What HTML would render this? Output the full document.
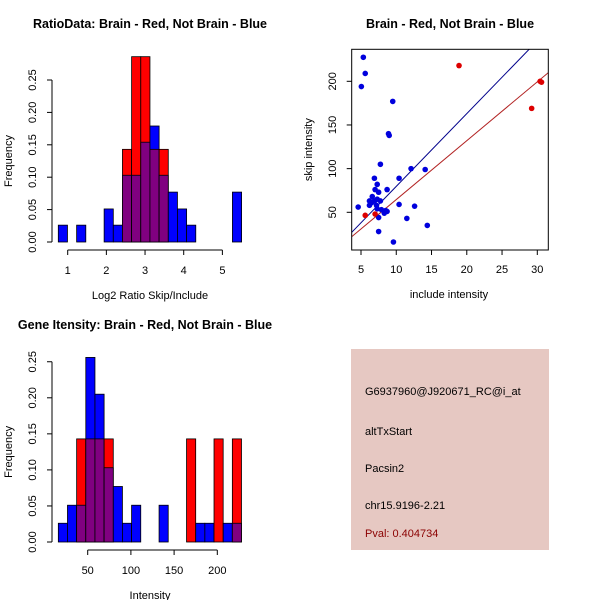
<!DOCTYPE html>
<html><head><meta charset="utf-8"><style>
body{margin:0;background:#fff;}
svg{display:block;font-family:"Liberation Sans",sans-serif;}
</style></head><body>
<svg id="c" width="600" height="600" viewBox="0 0 600 600">
<rect width="600" height="600" fill="#fff"/>
<g id="p1"></g>
<g id="p2"></g>
<g id="p3"></g>
<g id="p4">
<rect x="351" y="349" width="198" height="201" fill="#e6c8c2"/>
<text x="365" y="395" font-size="11" fill="#000">G6937960@J920671_RC@i_at</text>
<text x="365" y="435" font-size="11" fill="#000">altTxStart</text>
<text x="365" y="472" font-size="11" fill="#000">Pacsin2</text>
<text x="365" y="509" font-size="11" fill="#000">chr15.9196-2.21</text>
<text x="365" y="537" font-size="11" fill="#8b0000">Pval: 0.404734</text>
</g>
</svg>
<script>
// ---- Histogram 1 data (Log2 ratio) ----
const h1Start = 0.757, h1Width = 0.237;
const h1Blue = [0.026,0,0.026,0,0,0.051,0.026,0.103,0.103,0.154,0.179,0.103,0.077,0.051,0.026,0,0,0,0,0.077];
const h1Red  = [0,0,0,0,0,0,0,0.143,0.286,0.286,0.143,0.143,0,0,0,0,0,0,0,0];
const h1XTicks = [1,2,3,4,5];
const h1YTicks = ["0.00","0.05","0.10","0.15","0.20","0.25"];
// ---- Histogram 3 data (Intensity) ----
const h3Start = 16, h3Width = 10.6;
const h3Blue = [0.026,0.051,0.051,0.256,0.205,0.103,0.077,0.026,0.051,0,0,0.051,0,0,0,0.026,0.026,0,0.026,0.026];
const h3Red  = [0,0,0.143,0.143,0.143,0.143,0,0,0,0,0,0,0,0,0.143,0,0,0.143,0,0.143];
const h3XTicks = [50,100,150,200];
const h3YTicks = ["0.00","0.05","0.10","0.15","0.20","0.25"];
// ---- Scatter data ----
const blueX = [5.33,5.6,5.05,9.5,8.9,9.0,7.75,12.1,14.1,10.4,6.9,7.3,7.0,8.7,7.5,6.6,6.2,6.5,6.9,7.3,7.75,6.2,7.2,7.3,4.6,7.9,8.5,8.7,8.3,10.4,12.6,7.5,11.5,14.4,7.5,9.6];
const blueY = [227.5,209,194,177,140,138,105,100,99,89,89,82,76,76,73,68,63,61,63,65,63,58,58,54,56,53,52,51,49,59,57,44,43,35,28,16];
const redX = [18.9,30.4,30.6,29.2,5.6,7.0];
const redY = [218,200,199,169,46.5,48];
const blueFit = [-3.6, 8.33];
const redFit = [-2.8, 6.74];
const scXTicks = [5,10,15,20,25,30];
const scYTicks = [50,100,150,200];

const NS="http://www.w3.org/2000/svg";
function mk(parent,tag,attrs,text){const e=document.createElementNS(NS,tag);for(const k in attrs)e.setAttribute(k,attrs[k]);if(text!=null)e.textContent=text;parent.appendChild(e);return e;}

function hist(g,cfg){
  const {start,width,blue,red,xTicks,yTicks,x0px,x0v,pxPerUnit,y0,pxPer01,title,xlab,titleX,top}=cfg;
  const X=v=>x0px+(v-x0v)*pxPerUnit;
  const Y=f=>y0-f*pxPer01*100;
  for(let i=0;i<blue.length;i++){
    const l=X(start+i*width), r=X(start+(i+1)*width);
    const b=blue[i], rd=red[i];
    const hi=Math.max(b,rd), lo=Math.min(b,rd);
    if(hi>0){
      const e=mk(g,'rect',{x:l,y:Y(hi),width:r-l,height:Y(0)-Y(hi),fill:b>=rd?'#0000ff':'#ff0000',stroke:'#000','stroke-width':0.8});
      
      
    }
    if(lo>0){
      const e=mk(g,'rect',{x:l,y:Y(lo),width:r-l,height:Y(0)-Y(lo),fill:'#800080',stroke:'#000','stroke-width':0.8});
      
      
    }
  }
  const yTop=Y(0.25);
  mk(g,'line',{x1:52,y1:Y(0),x2:52,y2:yTop,stroke:'#000'});
  yTicks.forEach((t,i)=>{
    const y=Y(i*0.05);
    mk(g,'line',{x1:47,y1:y,x2:52,y2:y,stroke:'#000'});
    const e=mk(g,'text',{x:0,y:0,'font-size':11,'text-anchor':'middle',transform:`translate(36,${y}) rotate(-90)`},t);
    
    
  });
  const ax=Y(0)+8;
  mk(g,'line',{x1:X(xTicks[0]),y1:ax,x2:X(xTicks[xTicks.length-1]),y2:ax,stroke:'#000'});
  xTicks.forEach(t=>{
    mk(g,'line',{x1:X(t),y1:ax,x2:X(t),y2:ax+5,stroke:'#000'});
    const e=mk(g,'text',{x:X(t),y:ax+24,'font-size':11,'text-anchor':'middle'},t);
    
    
  });
  let e=mk(g,'text',{x:150,y:ax+49,'font-size':11,'text-anchor':'middle'},xlab);
  
  
  e=mk(g,'text',{x:0,y:0,'font-size':11,'text-anchor':'middle',transform:`translate(12,${(Y(0)+yTop)/2}) rotate(-90)`},'Frequency');
  
  
  e=mk(g,'text',{x:titleX,y:top,'font-size':12.5,'font-weight':'bold','text-anchor':'middle'},title);
  
  
}

hist(document.getElementById('p1'),{start:h1Start,width:h1Width,blue:h1Blue,red:h1Red,xTicks:h1XTicks,yTicks:h1YTicks,
  x0px:67.7,x0v:1,pxPerUnit:38.67,y0:242,pxPer01:6.48,title:'RatioData: Brain - Red, Not Brain - Blue',xlab:'Log2 Ratio Skip/Include',titleX:150,top:28});
hist(document.getElementById('p3'),{start:h3Start,width:h3Width,blue:h3Blue,red:h3Red,xTicks:h3XTicks,yTicks:h3YTicks,
  x0px:87.7,x0v:50,pxPerUnit:0.864,y0:542,pxPer01:7.21,title:'Gene Itensity: Brain - Red, Not Brain - Blue',xlab:'Intensity',titleX:145,top:329});

// scatter
(function(){
  const g=document.getElementById('p2');
  const L=351.7,R=548.3,T=49.3,B=250;
  const X=v=>361+(v-5)*7.052;
  const Y=v=>212.3-(v-50)*0.8733;
  mk(g,'clipPath',{id:'clip'});
  mk(document.getElementById('clip'),'rect',{x:L,y:T,width:R-L,height:B-T});
  const lines=mk(g,'g',{'clip-path':'url(#clip)'});
  [[blueFit,'#00008b','blue-fit-line'],[redFit,'#b22222','red-fit-line']].forEach(([f,c,n])=>{
    const xa=2,xb=35;
    const e=mk(lines,'line',{x1:X(xa),y1:Y(f[0]+f[1]*xa),x2:X(xb),y2:Y(f[0]+f[1]*xb),stroke:c,'stroke-width':1});
    
    
  });
  blueX.forEach((x,i)=>{
    const e=mk(g,'circle',{cx:X(x),cy:Y(blueY[i]),r:2.8,fill:'#0000dd'});
    
    
  });
  redX.forEach((x,i)=>{
    const e=mk(g,'circle',{cx:X(x),cy:Y(redY[i]),r:2.8,fill:'#dd0000'});
    
    
  });
  let e=mk(g,'rect',{x:L,y:T,width:R-L,height:B-T,fill:'none',stroke:'#000'});
  
  
  scXTicks.forEach(t=>{
    mk(g,'line',{x1:X(t),y1:B,x2:X(t),y2:B+5,stroke:'#000'});
    const e=mk(g,'text',{x:X(t),y:B+23,'font-size':11,'text-anchor':'middle'},t);
    
    
  });
  scYTicks.forEach(t=>{
    mk(g,'line',{x1:L-5,y1:Y(t),x2:L,y2:Y(t),stroke:'#000'});
    const e=mk(g,'text',{x:0,y:0,'font-size':11,'text-anchor':'middle',transform:`translate(336,${Y(t)}) rotate(-90)`},t);
    
    
  });
  e=mk(g,'text',{x:449,y:298,'font-size':11,'text-anchor':'middle'},'include intensity');
  
  
  e=mk(g,'text',{x:0,y:0,'font-size':11,'text-anchor':'middle',transform:`translate(312,${(T+B)/2}) rotate(-90)`},'skip intensity');
  
  
  e=mk(g,'text',{x:450,y:28,'font-size':12.5,'font-weight':'bold','text-anchor':'middle'},'Brain - Red, Not Brain - Blue');
  
  
})();
</script>
</body></html>
